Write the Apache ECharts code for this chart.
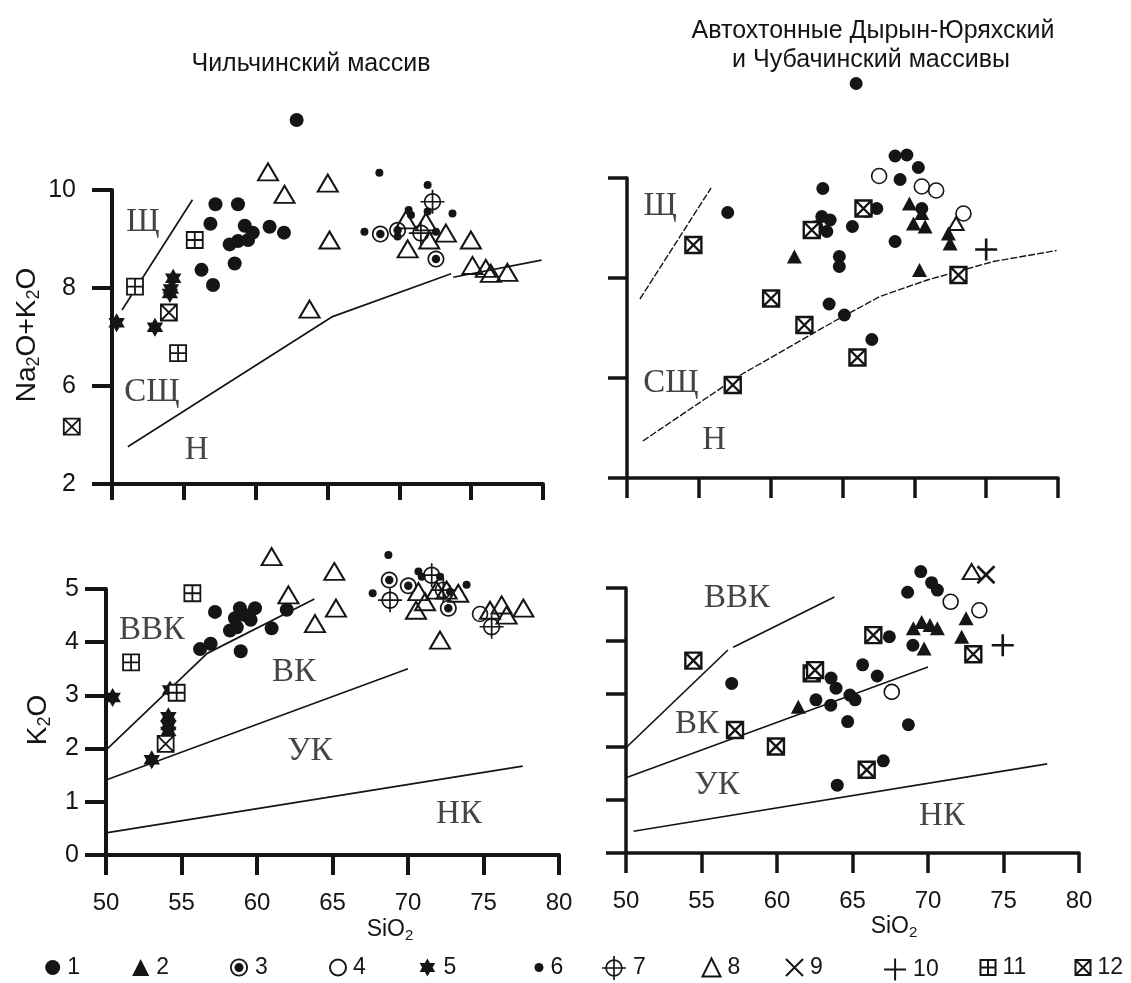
<!DOCTYPE html>
<html><head><meta charset="utf-8">
<script src="https://cdn.jsdelivr.net/npm/echarts@6/dist/echarts.min.js"></script>
<style>html,body{margin:0;padding:0;background:#fff}#c{width:1131px;height:983px}</style>
</head><body><div id="c"></div>
<script>
// ---------------- DATA ----------------
const X_TICKS = [50, 55, 60, 65, 70, 75, 80];
const TL_Y_TICK_VALUES = [4, 6, 8, 10];
const TL_Y_TICK_TEXT = ['2', '6', '8', '10'];
const K2O_Y_TICKS = [0, 1, 2, 3, 4, 5];
const LEGEND_NAMES = ['1','2','3','4','5','6','7','8','9','10','11','12'];

// Top-left: Na2O+K2O vs SiO2, Чильчинский массив
const TL_1 = [[62.85,11.43],[57.2,9.71],[58.77,9.71],[56.85,9.31],[59.24,9.27],[59.8,9.13],[60.97,9.25],[61.97,9.13],[58.19,8.89],[58.77,8.96],[59.47,8.98],[58.54,8.5],[56.23,8.37],[57.03,8.06]];
const TL_3 = [[68.68,9.1],[69.88,9.18],[72.55,8.59]];
const TL_5 = [[50.32,7.29],[52.99,7.2],[54.03,7.89],[54.1,7.98],[54.26,8.2]];
const TL_6 = [[68.61,10.35],[71.97,10.1],[73.7,9.52],[67.57,9.15],[70.65,9.59],[70.81,9.49],[71.97,9.56],[69.88,9.05],[72.55,9.15]];
const TL_7 = [[72.31,9.76],[71.5,9.12]];
const TL_8 = [[60.86,10.37],[62.01,9.91],[65.02,10.14],[65.14,8.98],[63.75,7.57],[70.58,8.8],[70.46,9.39],[71.85,9.35],[72.08,8.98],[73.24,9.12],[74.98,8.98],[75.09,8.46],[76.02,8.4],[76.37,8.3],[77.52,8.32]];
const TL_11 = [[55.76,8.98],[51.6,8.03],[54.6,6.67]];
const TL_12 = [[53.96,7.5],[47.2,5.17]];

// Top-right: Na2O+K2O vs SiO2, автохтонные массивы
const TR_1 = [[65.95,11.89],[57.01,9.31],[63.63,9.79],[63.56,9.23],[63.21,9.03],[63.91,8.93],[64.14,9.16],[65.69,9.03],[64.78,8.43],[64.78,8.23],[64.07,7.48],[65.13,7.26],[67.04,6.77],[68.66,10.44],[69.48,10.46],[70.28,10.21],[69.01,9.97],[70.52,9.39],[68.66,8.73],[66.69,9.33],[67.39,9.39]];
const TR_2 = [[61.65,8.43],[69.66,9.49],[69.94,9.09],[70.75,9.03],[70.52,9.3],[72.37,8.89],[72.49,8.69],[70.36,8.16]];
const TR_4 = [[67.55,10.04],[70.52,9.83],[71.52,9.75],[73.42,9.29]];
const TR_8 = [[72.91,9.09]];
const TR_10 = [[75.0,8.57]];
const TR_12 = [[54.62,8.66],[60.03,7.59],[62.35,7.06],[66.04,6.41],[57.36,5.86],[66.46,9.39],[62.86,8.96],[73.07,8.06]];

// Bottom-left: K2O vs SiO2, Чильчинский массив
const BL_1 = [[57.22,4.57],[58.87,4.64],[59.87,4.64],[58.54,4.45],[59.2,4.51],[59.58,4.42],[58.21,4.22],[58.66,4.28],[60.97,4.26],[61.97,4.61],[56.93,3.97],[56.23,3.87],[58.92,3.83]];
const BL_3 = [[68.76,5.17],[70.02,5.06],[72.67,4.64]];
const BL_4 = [[74.77,4.53]];
const BL_5 = [[50.44,2.96],[54.24,3.1],[54.13,2.6],[54.13,2.44],[54.13,2.32],[53.03,1.79]];
const BL_6 = [[68.7,5.64],[67.66,4.92],[70.69,5.33],[70.91,5.23],[72.12,5.23],[73.88,5.08],[72.78,4.95]];
const BL_7 = [[68.81,4.79],[71.57,5.26],[72.34,4.98],[75.54,4.29]];
const BL_8 = [[60.97,5.61],[62.08,4.89],[65.12,5.33],[65.23,4.64],[63.84,4.35],[70.69,4.95],[71.13,4.76],[70.53,4.6],[71.9,4.98],[72.56,4.98],[73.33,4.92],[72.12,4.04],[75.43,4.6],[76.2,4.7],[76.53,4.51],[77.64,4.64]];
const BL_11 = [[55.72,4.92],[51.66,3.62],[54.68,3.05]];
const BL_12 = [[53.95,2.09]];

// Bottom-right: K2O vs SiO2, автохтонные массивы
const BR_1 = [[57.0,3.2],[65.67,3.55],[63.58,3.3],[63.91,3.11],[62.58,2.89],[63.56,2.79],[64.83,2.98],[65.17,2.89],[64.68,2.48],[63.99,1.28],[69.52,5.31],[70.24,5.1],[70.62,4.96],[68.65,4.92],[67.44,4.08],[69.0,3.92],[66.64,3.34],[68.7,2.42],[67.04,1.74]];
const BR_2 = [[61.41,2.76],[69.03,4.24],[69.58,4.36],[70.13,4.3],[70.62,4.24],[69.74,3.86],[72.52,4.43],[72.23,4.08]];
const BR_4 = [[71.5,4.74],[73.4,4.58],[67.6,3.04]];
const BR_8 = [[72.89,5.31]];
const BR_9 = [[73.84,5.25]];
const BR_10 = [[74.95,3.92]];
const BR_12 = [[54.46,3.63],[57.22,2.32],[59.93,2.01],[62.3,3.39],[62.52,3.45],[66.38,4.11],[65.94,1.57],[73.0,3.75]];

// Classification boundaries
const TL_LINE_SHCH = [[50.7,7.55],[55.6,9.8]];
const TL_LINE_N1 = [[51.1,4.76],[65.3,7.41],[73.6,8.29]];
const TL_LINE_N2 = [[73.75,8.22],[79.9,8.57]];
const TR_LINE_SHCH = [[50.9,7.58],[55.85,9.8]];
const TR_LINE_N = [[51.1,4.74],[57.9,6.06],[64.4,7.13],[67.6,7.63],[70.9,7.96],[75.5,8.33],[79.9,8.55]];
const BL_LINE_HK = [[50.1,2.0],[56.7,3.79],[63.8,4.81]];
const BL_LINE_K = [[50.0,1.41],[70.0,3.5]];
const BL_LINE_LK = [[50.1,0.42],[77.6,1.67]];
const BR_LINE_HK1 = [[50.05,2.0],[56.75,3.83]];
const BR_LINE_HK2 = [[57.1,3.88],[63.8,4.83]];
const BR_LINE_K = [[50.0,1.42],[70.0,3.51]];
const BR_LINE_LK = [[50.5,0.41],[77.9,1.68]];

// Field labels
const TL_ZONES = [[52.15,9.35,'Щ'],[52.78,5.88,'СЩ'],[55.9,4.69,'Н']];
const TR_ZONES = [[52.3,9.44,'Щ'],[53.06,5.9,'СЩ'],[56.06,4.76,'Н']];
const BL_ZONES = [[53.05,4.23,'ВВК'],[62.45,3.44,'ВК'],[63.5,1.94,'УК'],[73.38,0.77,'НК']];
const BR_ZONES = [[57.35,4.81,'ВВК'],[54.7,2.43,'ВК'],[56.03,1.28,'УК'],[70.93,0.7,'НК']];

const TITLE_LEFT = 'Чильчинский массив';
const TITLE_RIGHT_1 = 'Автохтонные Дырын-Юряхский';
const TITLE_RIGHT_2 = 'и Чубачинский массивы';

// ---------------- STYLE ----------------
const SANS = "'Liberation Sans', Arial, sans-serif";
const NARROW = "'Liberation Sans Narrow', 'Liberation Sans', Arial, sans-serif";
const SERIF = "'Liberation Serif', 'Times New Roman', serif";
const INK = '#151515';

function circ(cx, cy, r, cw) {
  const k = 0.5523 * r, f = v => v.toFixed(2);
  if (cw) {
    return `M${f(cx+r)},${f(cy)}C${f(cx+r)},${f(cy+k)} ${f(cx+k)},${f(cy+r)} ${f(cx)},${f(cy+r)}` +
      `C${f(cx-k)},${f(cy+r)} ${f(cx-r)},${f(cy+k)} ${f(cx-r)},${f(cy)}` +
      `C${f(cx-r)},${f(cy-k)} ${f(cx-k)},${f(cy-r)} ${f(cx)},${f(cy-r)}` +
      `C${f(cx+k)},${f(cy-r)} ${f(cx+r)},${f(cy-k)} ${f(cx+r)},${f(cy)}Z`;
  }
  return `M${f(cx+r)},${f(cy)}C${f(cx+r)},${f(cy-k)} ${f(cx+k)},${f(cy-r)} ${f(cx)},${f(cy-r)}` +
    `C${f(cx-k)},${f(cy-r)} ${f(cx-r)},${f(cy-k)} ${f(cx-r)},${f(cy)}` +
    `C${f(cx-r)},${f(cy+k)} ${f(cx-k)},${f(cy+r)} ${f(cx)},${f(cy+r)}` +
    `C${f(cx+k)},${f(cy+r)} ${f(cx+r)},${f(cy+k)} ${f(cx+r)},${f(cy)}Z`;
}
function hexagram() {
  let s = '';
  for (let i = 0; i < 12; i++) {
    const a = (-90 + 30 * i) * Math.PI / 180;
    const r = i % 2 === 0 ? 50 : 50 / Math.sqrt(3);
    s += (i ? 'L' : 'M') + (50 + r * Math.cos(a)).toFixed(2) + ',' + (50 + r * Math.sin(a)).toFixed(2);
  }
  return 'path://' + s + 'Z';
}
const P_BULLSEYE = 'path://' + circ(50,50,50,true) + circ(50,50,40,false) + circ(50,50,25,true);
const P_CROSS = 'path://' + circ(50,50,36,true) + circ(50,50,29,false) +
  'M46.5,0L53.5,0L53.5,100L46.5,100Z' + 'M0,46.5L100,46.5L100,53.5L0,53.5Z';
const P_STAR = hexagram();
const P_X = 'path://M0,0L100,100M100,0L0,100';
const P_PLUS = 'path://M50,0L50,100M0,50L100,50';
const P_BOXPLUS = 'path://M0,0L100,0L100,100L0,100ZM50,0L50,100M0,50L100,50';
const P_BOXX = 'path://M0,0L100,0L100,100L0,100ZM0,0L100,100M100,0L0,100';

const SYM = {
  '1':  {symbol: 'circle', size: 14, color: INK, bw: 0},
  '2':  {symbol: 'triangle', size: [16, 15], color: INK, bw: 0},
  '3':  {symbol: P_BULLSEYE, size: 17, color: INK, bw: 0},
  '4':  {symbol: 'circle', size: 15, color: 'none', bw: 1.6},
  '5':  {symbol: P_STAR, size: 19, color: INK, bw: 0},
  '6':  {symbol: 'circle', size: 8, color: INK, bw: 0},
  '7':  {symbol: P_CROSS, size: 24, color: INK, bw: 0},
  '8':  {symbol: 'triangle', size: [20, 17], color: 'none', bw: 2},
  '9':  {symbol: P_X, size: 17, color: 'none', bw: 2.6},
  '10': {symbol: P_PLUS, size: 22, color: 'none', bw: 2.6},
  '11': {symbol: P_BOXPLUS, size: 16, color: '#fff', bw: 1.8},
  '12': {symbol: P_BOXX, size: 16, color: '#fff', bw: 1.8}
};

function pts(name, data, gi, over) {
  const s = Object.assign({}, SYM[name], over || {});
  return {
    type: 'scatter', name, data, xAxisIndex: gi, yAxisIndex: gi,
    symbol: s.symbol, symbolSize: s.size, symbolKeepAspect: true,
    itemStyle: {color: s.color, borderColor: INK, borderWidth: s.bw, opacity: 1},
    clip: false, silent: true, z: 3, emphasis: {disabled: true}
  };
}
function line(data, gi, dashed) {
  return {
    type: 'line', data, xAxisIndex: gi, yAxisIndex: gi, symbol: 'none', silent: true, z: 2,
    lineStyle: {color: INK, width: dashed ? 1.4 : 1.7, type: dashed ? [7, 2] : 'solid'},
    emphasis: {disabled: true}
  };
}
function zones(data, gi) {
  return {
    type: 'scatter', data, xAxisIndex: gi, yAxisIndex: gi, symbolSize: 1, silent: true, z: 4,
    itemStyle: {color: 'transparent'}, clip: false, emphasis: {disabled: true},
    label: {show: true, position: 'inside', formatter: p => p.value[2],
      fontFamily: SERIF, fontSize: 33, color: INK}
  };
}

const RIGHT = {'1': {size: 13}, '12': {size: 16, bw: 2.4}, '2': {size: [15, 14]}};

function xAxis(gi, showLabels, lw, tl) {
  return {
    type: 'value', gridIndex: gi, min: X_TICKS[0], max: X_TICKS[X_TICKS.length - 1], interval: 5,
    axisLine: {show: true, onZero: false, lineStyle: {color: INK, width: lw}},
    axisTick: {show: true, inside: false, length: tl, lineStyle: {color: INK, width: lw}},
    axisLabel: {show: showLabels, fontSize: 24, margin: 36, color: INK, fontFamily: SANS},
    splitLine: {show: false}
  };
}
function yAxis(gi, min, max, itv, labelOpt, lw, tl) {
  return {
    type: 'value', gridIndex: gi, min, max, interval: itv,
    axisLine: {show: true, onZero: false, lineStyle: {color: INK, width: lw}},
    axisTick: {show: true, inside: false, length: tl, lineStyle: {color: INK, width: lw}},
    axisLabel: labelOpt,
    splitLine: {show: false}
  };
}

const series = [
  line(TL_LINE_SHCH, 0), line(TL_LINE_N1, 0), line(TL_LINE_N2, 0),
  line(TR_LINE_SHCH, 1, true), line(TR_LINE_N, 1, true),
  line(BL_LINE_HK, 2), line(BL_LINE_K, 2), line(BL_LINE_LK, 2),
  line(BR_LINE_HK1, 3), line(BR_LINE_HK2, 3), line(BR_LINE_K, 3), line(BR_LINE_LK, 3),

  pts('8', TL_8, 0), pts('1', TL_1, 0), pts('6', TL_6, 0), pts('3', TL_3, 0),
  pts('7', TL_7, 0), pts('5', TL_5, 0), pts('11', TL_11, 0), pts('12', TL_12, 0),

  pts('4', TR_4, 1), pts('1', TR_1, 1, RIGHT['1']), pts('2', TR_2, 1, RIGHT['2']),
  pts('8', TR_8, 1, {size: [15, 13]}), pts('10', TR_10, 1), pts('12', TR_12, 1, RIGHT['12']),

  pts('8', BL_8, 2), pts('4', BL_4, 2), pts('1', BL_1, 2), pts('6', BL_6, 2), pts('3', BL_3, 2),
  pts('7', BL_7, 2), pts('5', BL_5, 2), pts('11', BL_11, 2), pts('12', BL_12, 2),

  pts('4', BR_4, 3), pts('1', BR_1, 3, RIGHT['1']), pts('2', BR_2, 3, RIGHT['2']),
  pts('8', BR_8, 3, {size: [18, 15]}), pts('9', BR_9, 3), pts('10', BR_10, 3), pts('12', BR_12, 3, RIGHT['12']),

  zones(TL_ZONES, 0), zones(TR_ZONES, 1), zones(BL_ZONES, 2), zones(BR_ZONES, 3)
];

// legend layout (centres of the icons along the bottom row)
const LEG_X = [52.7, 140.7, 239, 335.5, 428.6, 539, 614, 709, 792, 892.6, 987, 1082];
const LEG_SZ = [15, 17, 18, 16, 18, 9, 24, 18, 17, 22, 15, 15];
const LEG_Y = 968;
const legend = LEGEND_NAMES.map((n, i) => {
  const sz = LEG_SZ[i];
  return {
    data: [n], selectedMode: false, orient: 'horizontal', padding: 0, itemGap: 0,
    left: LEG_X[i] - sz / 2, top: LEG_Y - Math.max(sz, 24) / 2,
    itemWidth: sz, itemHeight: sz,
    textStyle: {fontSize: 23, fontFamily: NARROW, color: INK, padding: [2, 0, 0, 2]}
  };
});

function subText(parts, big, small, drop) {
  return {
    text: parts.map(p => p[1] ? `{s|${p[0]}}` : `{a|${p[0]}}`).join(''),
    rich: {
      a: {fontSize: big, fontFamily: SANS, fill: INK, color: INK},
      s: {fontSize: small, fontFamily: SANS, fill: INK, color: INK, padding: [drop, 0, 0, 0]}
    },
    align: 'center', verticalAlign: 'middle', textAlign: 'center', textVerticalAlign: 'middle'
  };
}
function plainText(txt, x, y, size) {
  return {type: 'text', x, y, silent: true, style: {text: txt, font: `${size}px ${SANS}`, fill: INK,
    align: 'center', verticalAlign: 'middle', textAlign: 'center', textVerticalAlign: 'middle'}};
}

const graphic = [
  plainText(TITLE_LEFT, 311, 64, 25),
  plainText(TITLE_RIGHT_1, 873, 31, 25),
  plainText(TITLE_RIGHT_2, 871, 60, 25),
  {type: 'text', x: 27, y: 335, rotation: Math.PI / 2, silent: true,
   style: subText([['Na'], ['2', 1], ['O+K'], ['2', 1], ['O']], 28, 18, 14)},
  {type: 'text', x: 38, y: 720, rotation: Math.PI / 2, silent: true,
   style: subText([['K'], ['2', 1], ['O']], 28, 18, 14)},
  {type: 'text', x: 390, y: 930, silent: true, style: subText([['SiO'], ['2', 1]], 23, 15, 12)},
  {type: 'text', x: 894, y: 927, silent: true, style: subText([['SiO'], ['2', 1]], 23, 15, 12)}
];

const option = {
  animation: false,
  textStyle: {fontFamily: SANS},
  grid: [
    {left: 112, top: 190, width: 431, height: 294},
    {left: 627, top: 178, width: 431, height: 300},
    {left: 106, top: 589, width: 453, height: 266},
    {left: 626, top: 588, width: 453, height: 265}
  ],
  xAxis: [xAxis(0, false, 4, 16), xAxis(1, false, 3.5, 20), xAxis(2, true, 4, 20), xAxis(3, true, 3.5, 20)],
  yAxis: [
    yAxis(0, 4, 10, 2, {show: true, fontSize: 25, margin: 36, color: INK, fontFamily: SANS,
      formatter: v => { const i = TL_Y_TICK_VALUES.indexOf(v); return i >= 0 ? TL_Y_TICK_TEXT[i] : ''; }}, 4, 20),
    yAxis(1, 4, 10, 2, {show: false}, 3.5, 19),
    yAxis(2, K2O_Y_TICKS[0], K2O_Y_TICKS[K2O_Y_TICKS.length - 1], 1,
      {show: true, fontSize: 25, margin: 27, color: INK, fontFamily: SANS}, 4, 21),
    yAxis(3, K2O_Y_TICKS[0], K2O_Y_TICKS[K2O_Y_TICKS.length - 1], 1, {show: false}, 3.5, 20)
  ],
  legend,
  graphic,
  series
};
const chart = echarts.init(document.getElementById('c'), null, {renderer: 'canvas'});
chart.setOption(option);
</script></body></html>
